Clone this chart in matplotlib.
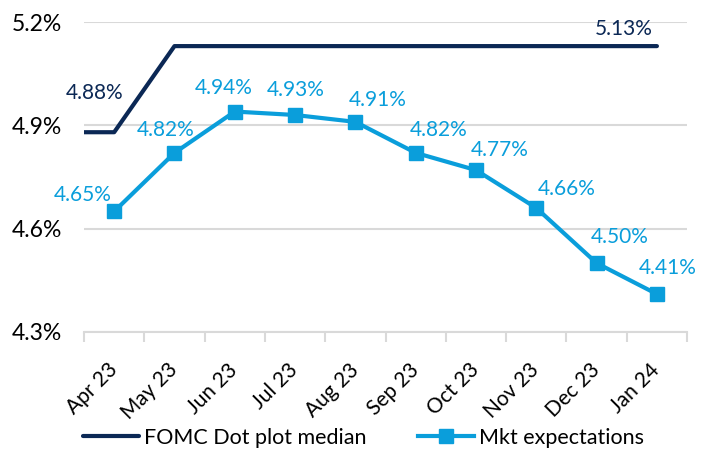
"""FOMC dot plot median vs market expectations."""

import matplotlib
matplotlib.use("Agg")
import matplotlib.pyplot as plt
import numpy as np

months = ["Apr 23", "May 23", "Jun 23", "Jul 23", "Aug 23",
          "Sep 23", "Oct 23", "Nov 23", "Dec 23", "Jan 24"]
fomc = [4.88, 5.13, 5.13, 5.13, 5.13, 5.13, 5.13, 5.13, 5.13, 5.13]
mkt = [4.65, 4.82, 4.94, 4.93, 4.91, 4.82, 4.77, 4.66, 4.50, 4.41]
y_ticks = [4.3, 4.6, 4.9, 5.2]

# label offsets (pixels) as placed in the original chart
mkt_label_offsets = [(-31, 16), (-9, 23), (-11, 24), (1, 25), (22, 22),
                     (23, 23), (24, 20), (30, 19), (23, 26), (11, 26)]

NAVY = "#0b2855"
BLUE = "#0a9edb"
GRID = "#d9d9d9"

plt.rcParams["font.family"] = ["Lato", "DejaVu Sans"]

fig = plt.figure(figsize=(7.12, 4.49), dpi=100)
ax = fig.add_axes([0.118, 0.2606, 0.847, 0.6904])

x = np.arange(len(months))
# dot plot line starts at the left edge of the axis
fx = np.concatenate([[-0.5], x])
fy = np.concatenate([[fomc[0]], fomc])
ax.plot(fx, fy, color=NAVY, lw=3, solid_capstyle="round", zorder=3,
        label="FOMC Dot plot median")
ax.plot(x, mkt, color=BLUE, lw=3, marker="s", ms=10, zorder=4,
        label="Mkt expectations")

for xi, v, off in zip(x, mkt, mkt_label_offsets):
    ax.annotate(f"{v:.2f}%", (xi, v), xytext=off, textcoords="offset pixels",
                ha="center", va="center", color=BLUE, fontsize=15)
ax.annotate(f"{fomc[0]:.2f}%", (-0.5, fomc[0]), xytext=(11, 39),
            textcoords="offset pixels", ha="center", va="center",
            color=NAVY, fontsize=15)
ax.annotate(f"{fomc[-1]:.2f}%", (x[-1], fomc[-1]), xytext=(-33, 17),
            textcoords="offset pixels", ha="center", va="center",
            color=NAVY, fontsize=15)

ax.set_xlim(-0.5, len(months) - 0.5)
ax.set_ylim(y_ticks[0], y_ticks[-1])
ax.set_yticks(y_ticks)
ax.set_yticklabels([f"{t:.1f}%" for t in y_ticks], fontsize=16.5)
ax.yaxis.grid(True, color=GRID, lw=1.5)
ax.set_axisbelow(True)
ax.tick_params(axis="y", length=0, pad=16)

ax.set_xticks(x)
ax.set_xticklabels(months, rotation=45, ha="right", va="center",
                   rotation_mode="anchor", fontsize=15)
ax.tick_params(axis="x", length=0, pad=25)
ax.set_xticks(np.arange(-0.5, len(months)), minor=True)
ax.tick_params(axis="x", which="minor", length=7, width=1.5, color=GRID)

for s in ["top", "right", "left"]:
    ax.spines[s].set_visible(False)
ax.spines["bottom"].set_color(GRID)
ax.spines["bottom"].set_linewidth(1.5)

fig.legend(loc="lower center", ncol=2, frameon=False, fontsize=15.5,
           bbox_to_anchor=(0.5105, -0.04), handlelength=2.6, columnspacing=2.4,
           handletextpad=0.25)

fig.savefig("out.png", dpi=100)
